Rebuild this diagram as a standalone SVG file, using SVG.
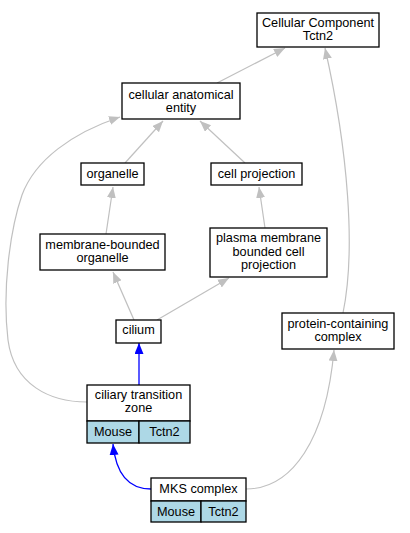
<svg xmlns="http://www.w3.org/2000/svg" width="410" height="533" viewBox="0 0 410 533">
<defs>
<style>
.n{fill:#fff;stroke:#000;stroke-width:1.3}
.c{fill:#add8e6;stroke:#000;stroke-width:1.3}
text{font-family:"Liberation Sans",Arial,sans-serif;font-size:12.7px;fill:#000;text-anchor:middle}
.g{fill:none;stroke:#c0c0c0;stroke-width:1.2}
.b{fill:none;stroke:#0000ff;stroke-width:1.3}
</style>
<marker id="ag" markerUnits="userSpaceOnUse" markerWidth="12" markerHeight="10" refX="11" refY="4.5" orient="auto"><path d="M0,0 L11,4.5 L0,9 z" fill="#c0c0c0"/></marker>
<marker id="ab" markerUnits="userSpaceOnUse" markerWidth="12" markerHeight="10" refX="11" refY="4.5" orient="auto"><path d="M0,0 L11,4.5 L0,9 z" fill="#0000ff"/></marker>
</defs>
<g id="edges">
<path class="g" d="M217,83 L285,48" marker-end="url(#ag)"/>
<path class="g" d="M343,313 C356,250 348,150 325,48" marker-end="url(#ag)"/>
<path class="g" d="M125,163 L163,121" marker-end="url(#ag)"/>
<path class="g" d="M245,163 L200,121" marker-end="url(#ag)"/>
<path class="g" d="M87,402 C50,402 14,385 8,340 C2,290 10,230 22,195 C35,160 72,133 120,117" marker-end="url(#ag)"/>
<path class="g" d="M106,234 L113,187" marker-end="url(#ag)"/>
<path class="g" d="M265,228 L259,187" marker-end="url(#ag)"/>
<path class="g" d="M134,320 L113,272" marker-end="url(#ag)"/>
<path class="g" d="M157,320 L229,278" marker-end="url(#ag)"/>
<path class="b" d="M139,385 L139,343" marker-end="url(#ab)"/>
<path class="b" d="M151,489 C130,489 116,475 113,444" marker-end="url(#ab)"/>
<path class="g" d="M246,489 C292,489 326,440 334,350" marker-end="url(#ag)"/>
</g>
<g id="cc">
<rect class="n" x="257" y="13" width="122" height="34"/>
<text x="318" y="26.5">Cellular Component</text>
<text x="318" y="40">Tctn2</text>
</g>
<g id="cae">
<rect class="n" x="122" y="83" width="118" height="36"/>
<text x="181" y="98.5">cellular anatomical</text>
<text x="181" y="112">entity</text>
</g>
<g id="organelle">
<rect class="n" x="81" y="163" width="63" height="22"/>
<text x="112.5" y="178">organelle</text>
</g>
<g id="cellproj">
<rect class="n" x="211" y="163" width="91" height="22"/>
<text x="256.5" y="178">cell projection</text>
</g>
<g id="mbo">
<rect class="n" x="40" y="234" width="125" height="36"/>
<text x="102.5" y="248.5">membrane-bounded</text>
<text x="102.5" y="262">organelle</text>
</g>
<g id="pmbcp">
<rect class="n" x="210" y="228" width="117" height="49"/>
<text x="268.5" y="242">plasma membrane</text>
<text x="268.5" y="255.5">bounded cell</text>
<text x="268.5" y="269">projection</text>
</g>
<g id="cilium">
<rect class="n" x="116" y="320" width="45" height="23"/>
<text x="138.5" y="334">cilium</text>
</g>
<g id="pcc">
<rect class="n" x="282" y="313" width="112" height="36"/>
<text x="338" y="327.5">protein-containing</text>
<text x="338" y="341">complex</text>
</g>
<g id="ctz">
<rect class="n" x="87" y="385" width="103" height="36"/>
<rect class="c" x="87" y="421" width="52" height="22"/>
<rect class="c" x="139" y="421" width="51" height="22"/>
<text x="138.5" y="398.5">ciliary transition</text>
<text x="138.5" y="412">zone</text>
<text x="113" y="435.5">Mouse</text>
<text x="164.5" y="435.5">Tctn2</text>
</g>
<g id="mks">
<rect class="n" x="151" y="478" width="95" height="23"/>
<rect class="c" x="151" y="501" width="50" height="21"/>
<rect class="c" x="201" y="501" width="45" height="21"/>
<text x="198.5" y="493">MKS complex</text>
<text x="176" y="515.5">Mouse</text>
<text x="223.5" y="515.5">Tctn2</text>
</g>
</svg>
